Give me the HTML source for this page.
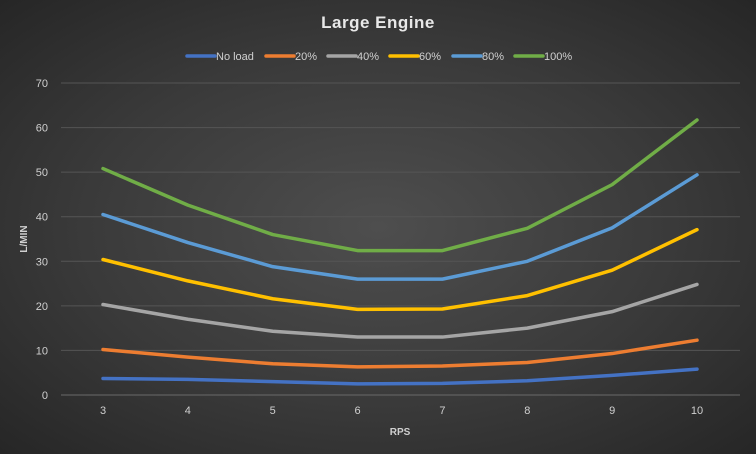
<!DOCTYPE html>
<html><head><meta charset="utf-8"><style>
html,body{margin:0;padding:0;width:756px;height:454px;overflow:hidden}
#c{width:756px;height:454px;background:radial-gradient(ellipse at center,#4e4e4e 0%,#3a3a3a 55%,#262626 100%)}
text{font-family:"Liberation Sans",sans-serif}
</style></head><body>
<div id="c">
<svg id="s" width="756" height="454" xmlns="http://www.w3.org/2000/svg"></svg>
</div>
<script>
const categories=[3,4,5,6,7,8,9,10];
const yTicks=[0,10,20,30,40,50,60,70];
const seriesNames=["No load","20%","40%","60%","80%","100%"];
const seriesColors=["#4472c4","#ed7d31","#a5a5a5","#ffc000","#5b9bd5","#70ad47"];
const sNoLoad=[3.7,3.5,3.0,2.5,2.6,3.2,4.4,5.8];
const s20=[10.2,8.5,7.0,6.3,6.5,7.3,9.3,12.3];
const s40=[20.3,17.0,14.3,13.0,13.0,15.0,18.7,24.8];
const s60=[30.4,25.6,21.6,19.2,19.3,22.3,28.0,37.1];
const s80=[40.5,34.2,28.8,26.0,26.0,30.0,37.5,49.4];
const s100=[50.8,42.6,36.0,32.4,32.4,37.4,47.2,61.7];
const series=[sNoLoad,s20,s40,s60,s80,s100];
const NS="http://www.w3.org/2000/svg",svg=document.getElementById('s');
function el(t,a,p){const e=document.createElementNS(NS,t);for(const k in a)e.setAttribute(k,a[k]);(p||svg).appendChild(e);return e;}
const x0=61,x1=740,y0=395,y1=83;
const xs=i=>103+i*(697-103)/(categories.length-1);
const ys=v=>y0-(v/70)*(y0-y1);
let t=el('text',{x:378,y:28,'text-anchor':'middle','font-size':17,'font-weight':'bold',fill:'#e8e8e8','letter-spacing':'0.5'});t.textContent='Large  Engine';


yTicks.forEach(v=>{
 const g=el('line',{x1:x0,x2:x1,y1:ys(v),y2:ys(v),stroke:v===0?'#6a6a6a':'#555',"stroke-width":1});
 
 
 const l=el('text',{x:48,y:ys(v)+4,'text-anchor':'end','font-size':11,fill:'#d0d0d0'});l.textContent=v;
 
 
});
categories.forEach((c,i)=>{
 const l=el('text',{x:xs(i),y:414,'text-anchor':'middle','font-size':11,fill:'#d0d0d0'});l.textContent=c;
 
 
});
t=el('text',{x:400,y:435,'text-anchor':'middle','font-size':10,'font-weight':'bold',fill:'#d0d0d0'});t.textContent='RPS';


t=el('text',{x:0,y:0,'text-anchor':'middle','font-size':10,'font-weight':'bold',fill:'#d0d0d0',transform:'translate(27,239) rotate(-90)'});t.textContent='L/MIN';


series.forEach((d,si)=>{
 const p=el('polyline',{points:d.map((v,i)=>xs(i)+','+ys(v)).join(' '),fill:'none',stroke:seriesColors[si],'stroke-width':3.5,'stroke-linejoin':'round','stroke-linecap':'round'});
 
 
});
const lx=[187,266,328,390,453,515];
seriesNames.forEach((n,i)=>{
 const g=el('g',{});
 
 
 el('line',{x1:lx[i],x2:lx[i]+28,y1:56,y2:56,stroke:seriesColors[i],'stroke-width':3.5,'stroke-linecap':'round'},g);
 const tx=el('text',{x:lx[i]+29,y:60,'font-size':11,fill:'#d0d0d0'},g);tx.textContent=n;
});
</script>
</body></html>
